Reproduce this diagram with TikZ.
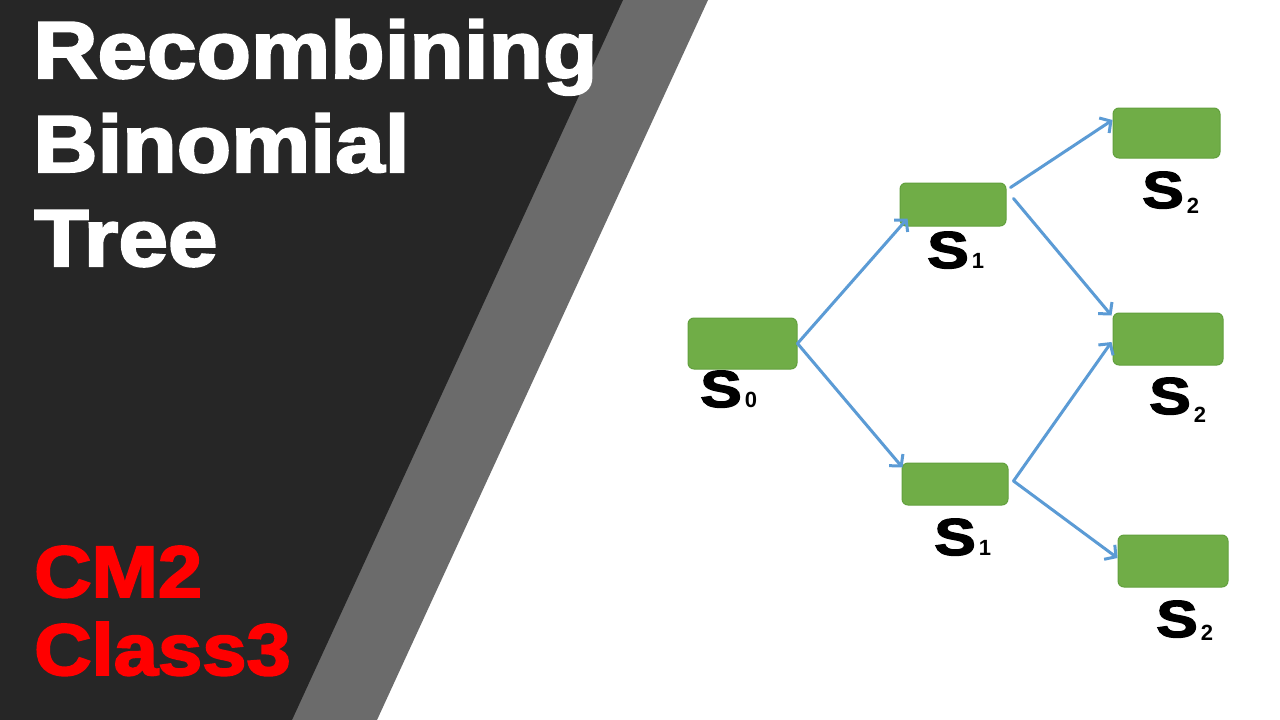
\documentclass[tikz,border=0pt]{standalone}
\usepackage{fontspec}
\setmainfont{Liberation Sans}
\newfontfamily\heavyfont[FakeBold=2.5]{Liberation Sans Bold}
\newfontfamily\subfont{Liberation Sans Bold}
\usetikzlibrary{arrows.meta}
\definecolor{panel}{HTML}{262626}
\definecolor{stripe}{HTML}{6B6B6B}
\definecolor{boxgreen}{HTML}{70AD47}
\definecolor{boxedge}{HTML}{62A03D}
\definecolor{arrowblue}{HTML}{5B9BD5}
\definecolor{titlered}{HTML}{FF0000}
\newcommand{\slab}[2]{\scalebox{1.2}[1]{\heavyfont\fontsize{52}{52}\selectfont S}\hspace{3pt}\raisebox{#2}{\subfont\fontsize{22}{22}\selectfont #1}}
\tikzset{
  titletext/.style={inner sep=0pt, text=white, font=\heavyfont\fontsize{81}{81}\selectfont},
  redtext/.style={inner sep=0pt, text=titlered, font=\heavyfont\fontsize{73}{73}\selectfont},
  greenbox/.style={draw=boxedge, line width=1pt, fill=boxgreen, rounded corners=6pt, inner sep=0pt},
  lab/.style={inner sep=0pt, text=black, anchor=base west},
  arr/.style={draw=arrowblue, line width=3pt, line cap=round, -{Straight Barb[length=8pt,width=18pt,line width=3pt]}}
}
\begin{document}
\begin{tikzpicture}[x=1pt,y=-1pt]
\useasboundingbox (0,0) rectangle (1280,720);
\fill[white] (0,0) rectangle (1280,720);
\fill[stripe] (0,0) -- (708,0) -- (377,720) -- (0,720) -- cycle;
\fill[panel] (0,0) -- (623,0) -- (292,720) -- (0,720) -- cycle;

% titles
\node[titletext, anchor=base west] (t1) at (33,78) {\scalebox{1.1}[1]{Recombining}};
\node[titletext, anchor=base west] (t2) at (33,172) {\scalebox{1.1}[1]{Binomial}};
\node[titletext, anchor=base west] (t3) at (34,266) {\scalebox{1.1}[1]{Tree}};
\node[redtext, anchor=base west] (c1) at (34,597) {\scalebox{1.09}[1]{CM2}};
\node[redtext, anchor=base west] (c2) at (34,675) {\scalebox{1.09}[1]{Class3}};

% boxes
\node[greenbox, minimum width=109pt, minimum height=51pt] (b0) at (742.5,343.5) {};
\node[greenbox, minimum width=106pt, minimum height=43pt] (b1u) at (953,204.5) {};
\node[greenbox, minimum width=106pt, minimum height=42pt] (b1d) at (955,484) {};
\node[greenbox, minimum width=107pt, minimum height=50pt] (b2u) at (1166.5,133) {};
\node[greenbox, minimum width=110pt, minimum height=52pt] (b2m) at (1168,339) {};
\node[greenbox, minimum width=110pt, minimum height=52pt] (b2d) at (1173,561) {};

% labels
\node[lab] (l0) at (700,407) {\slab{0}{0pt}};
\node[lab] (l1u) at (927,268) {\slab{1}{0pt}};
\node[lab] (l2u) at (1142,208) {\slab{2}{-5pt}};
\node[lab] (l2m) at (1149,414) {\slab{2}{-8pt}};
\node[lab] (l1d) at (934,555) {\slab{1}{0pt}};
\node[lab] (l2d) at (1156,637) {\slab{2}{-3pt}};

% arrows
\draw[arr] (b0.east) -- ([xshift=8pt,yshift=8pt]b1u.south west);
\draw[arr] (b0.east) -- ([xshift=1pt,yshift=-5pt]b1d.north west);
\draw[arr] ([xshift=4pt,yshift=-5pt]b1u.north east) -- ([yshift=13pt]b2u.west);
\draw[arr] ([xshift=7pt,yshift=6pt]b1u.east) -- ([xshift=-1pt,yshift=-3pt]b2m.north west);
\draw[arr] ([xshift=5pt,yshift=3pt]b1d.east) -- ([xshift=-1pt,yshift=-3pt]b2m.west);
\draw[arr] ([xshift=5pt,yshift=3pt]b1d.east) -- ([yshift=3pt]b2d.west);
\end{tikzpicture}
\end{document}
